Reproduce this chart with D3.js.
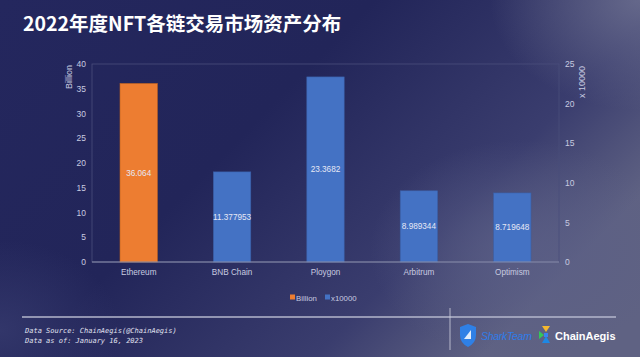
<!DOCTYPE html>
<html><head><meta charset="utf-8">
<script src="https://cdn.jsdelivr.net/npm/d3@7/dist/d3.min.js"></script>
<style>
html,body{margin:0;padding:0;background:#23265a;}
svg{display:block;}
</style></head>
<body>
<svg id="c" width="640" height="357"></svg>
<script>
const categories = ["Ethereum","BNB Chain","Ploygon","Arbitrum","Optimism"];
const billionValues = [36.064, null, null, null, null];
const x10000Values = [null, 11.377953, 23.3682, 8.989344, 8.719648];
const billionLabels = ["36.064", null, null, null, null];
const x10000Labels = [null, "11.377953", "23.3682", "8.989344", "8.719648"];
const leftTicks = [0,5,10,15,20,25,30,35,40];
const rightTicks = [0,5,10,15,20,25];
const seriesNames = ["Billion","x10000"];
const title = "2022年度NFT各链交易市场资产分布";
const footer = ["Data Source: ChainAegis(@ChainAegis)","Data as of: January 16, 2023"];

const svg = d3.select("#c");
const W=640,H=357;
const defs = svg.append("defs");
const lg = defs.append("linearGradient").attr("id","bg").attr("x1","0").attr("y1","0").attr("x2","1").attr("y2","0.55");
lg.append("stop").attr("offset","0").attr("stop-color","#24275e");
lg.append("stop").attr("offset","0.45").attr("stop-color","#222559");
lg.append("stop").attr("offset","0.8").attr("stop-color","#3a3d6e");
lg.append("stop").attr("offset","1").attr("stop-color","#5f6283");
svg.append("rect").attr("width",W).attr("height",H).attr("fill","url(#bg)");
const rg = defs.append("radialGradient").attr("id","glow").attr("cx","0.5").attr("cy","0.5").attr("r","0.5");
rg.append("stop").attr("offset","0").attr("stop-color","#5a5e86").attr("stop-opacity",0.85);
rg.append("stop").attr("offset","1").attr("stop-color","#5a5e86").attr("stop-opacity",0);
svg.append("ellipse").attr("cx",520).attr("cy",250).attr("rx",150).attr("ry",110).attr("fill","url(#glow)");
const rg2 = defs.append("radialGradient").attr("id","glow2").attr("cx","0.5").attr("cy","0.5").attr("r","0.5");
rg2.append("stop").attr("offset","0").attr("stop-color","#6a6d8e").attr("stop-opacity",0.9);
rg2.append("stop").attr("offset","1").attr("stop-color","#6a6d8e").attr("stop-opacity",0);
svg.append("ellipse").attr("cx",640).attr("cy",0).attr("rx",150).attr("ry",110).attr("fill","url(#glow2)");
const rg3 = defs.append("radialGradient").attr("id","glow3").attr("cx","0.5").attr("cy","0.5").attr("r","0.5");
rg3.append("stop").attr("offset","0").attr("stop-color","#34386c").attr("stop-opacity",0.9);
rg3.append("stop").attr("offset","1").attr("stop-color","#34386c").attr("stop-opacity",0);
svg.append("ellipse").attr("cx",0).attr("cy",330).attr("rx",120).attr("ry",90).attr("fill","url(#glow3)");

svg.append("text").attr("x",23).attr("y",31).text(title)
  .attr("font-family","'Noto Sans CJK SC', 'Noto Sans', sans-serif").attr("font-weight","bold")
  .attr("font-size",19.5).attr("fill","#ffffff");

const L=92,R=559,T=64,B=262;
const x = d3.scaleBand().domain(categories).range([L,R]).paddingInner(0.6).paddingOuter(0.3);
const yL = d3.scaleLinear().domain([0,40]).range([B,T]);
const yR = d3.scaleLinear().domain([0,25]).range([B,T]);

svg.append("rect").attr("x",L).attr("y",T).attr("width",R-L).attr("height",B-T)
  .attr("fill","none").attr("stroke","#4a4e7c").attr("stroke-width",0.8);

const tf = "'Liberation Sans', Arial, sans-serif";
const axL = svg.append("g").attr("transform",`translate(${L},0)`)
  .call(d3.axisLeft(yL).tickValues(leftTicks).tickSize(0).tickPadding(6));
const axR = svg.append("g").attr("transform",`translate(${R},0)`)
  .call(d3.axisRight(yR).tickValues(rightTicks).tickSize(0).tickPadding(6));
[axL,axR].forEach(a=>{a.select(".domain").remove();
  a.selectAll("text").attr("fill","#c8cbe0").attr("font-size",8.5).attr("font-family",tf);});

svg.append("text").attr("transform",`translate(72,65) rotate(-90)`).attr("text-anchor","end")
  .attr("font-size",9).attr("font-family",tf).attr("fill","#c8cbe0").text("Billion");
svg.append("text").attr("transform",`translate(585,66) rotate(-90)`).attr("text-anchor","end")
  .attr("font-size",9).attr("font-family",tf).attr("fill","#c8cbe0").text("x 10000");

const bw = x.bandwidth();
svg.append("g").selectAll("rect").data(categories.map((c,i)=>({c,v:billionValues[i],l:billionLabels[i]})).filter(d=>d.v!=null))
  .join("rect").attr("x",d=>x(d.c)).attr("y",d=>yL(d.v)).attr("width",bw).attr("height",d=>B-yL(d.v))
  .attr("fill","#ed7d31").attr("stroke","#c2651f").attr("stroke-width",0.6);
svg.append("g").selectAll("rect").data(categories.map((c,i)=>({c,v:x10000Values[i],l:x10000Labels[i]})).filter(d=>d.v!=null))
  .join("rect").attr("x",d=>x(d.c)).attr("y",d=>yR(d.v)).attr("width",bw).attr("height",d=>B-yR(d.v))
  .attr("fill","#4472c4").attr("stroke","#3a5fa6").attr("stroke-width",0.6);

const labs = categories.map((c,i)=>billionValues[i]!=null?{c,y:(yL(billionValues[i])+B)/2,l:billionLabels[i]}:{c,y:(yR(x10000Values[i])+B)/2,l:x10000Labels[i]});
svg.append("g").selectAll("text").data(labs).join("text")
  .attr("x",d=>x(d.c)+bw/2).attr("y",d=>d.y+3).attr("text-anchor","middle")
  .attr("font-size",8.2).attr("font-family",tf).attr("fill","#e6e8f5").text(d=>d.l);

svg.append("line").attr("x1",L).attr("x2",R).attr("y1",B).attr("y2",B).attr("stroke","#8d91ad").attr("stroke-width",1.2);

const axB = svg.append("g").attr("transform",`translate(0,${B})`).call(d3.axisBottom(x).tickSize(0).tickPadding(7));
axB.select(".domain").remove();
axB.selectAll("text").attr("fill","#c8cbe0").attr("font-size",8.2).attr("font-family",tf);

// legend
const leg = svg.append("g");
const legColors = ["#ed7d31","#4472c4"];
const legX = [290,325];
seriesNames.forEach((n,i)=>{
  leg.append("rect").attr("x",legX[i]).attr("y",294.5).attr("width",5).attr("height",5).attr("fill",legColors[i]);
  leg.append("text").attr("x",legX[i]+6).attr("y",300.5).attr("font-size",7.8).attr("font-family",tf).attr("fill","#c8cbe0").text(n);
});

// footer
svg.append("line").attr("x1",22).attr("x2",616).attr("y1",317).attr("y2",317).attr("stroke","#b4b7cc").attr("stroke-width",1.5);
svg.append("line").attr("x1",450).attr("x2",450).attr("y1",308).attr("y2",350).attr("stroke","#d0d2e0").attr("stroke-width",0.8);
footer.forEach((t,i)=>{
  svg.append("text").attr("x",25).attr("y",333+i*10).attr("font-size",7).attr("font-style","italic")
    .attr("font-family","'DejaVu Sans Mono', monospace").attr("fill","#e0e2f0").text(t);
});
// SharkTeam logo
const sh = svg.append("g").attr("transform","translate(460,325)");
sh.append("path").attr("d","M0,2 L8,-1 L16,2 L16,10 Q16,18 8,22 Q0,18 0,10 Z").attr("fill","#2f80e6");
sh.append("path").attr("d","M4,14 L11,5 L11,14 Z").attr("fill","#ffffff").attr("opacity",0.85);
svg.append("text").attr("x",481).attr("y",340).attr("font-size",10.5).attr("font-style","italic")
  .attr("font-family","'Liberation Sans', Arial, sans-serif").attr("fill","#2f7ce8").attr("letter-spacing",-0.3).text("SharkTeam");
// ChainAegis logo
const ca = svg.append("g").attr("transform","translate(539,326)");
ca.append("path").attr("d","M3,0 L11,0 L7,6 Z").attr("fill","#f5b82e");
ca.append("path").attr("d","M0,5 L5,9 L0,13 Z").attr("fill","#34c759");
ca.append("path").attr("d","M7,10 L3,17 L11,17 Z").attr("fill","#1e88e5");
ca.append("rect").attr("x",5).attr("y",7).attr("width",4).attr("height",4).attr("fill","#3a82f0");
svg.append("text").attr("x",555).attr("y",340).attr("font-size",11).attr("font-weight","bold")
  .attr("font-family","'Liberation Sans', Arial, sans-serif").attr("fill","#ffffff").text("ChainAegis");
</script>
</body></html>
